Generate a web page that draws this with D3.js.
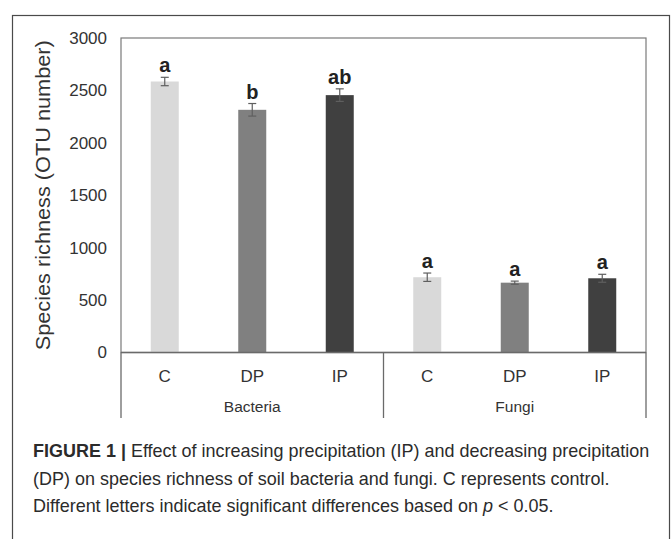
<!DOCTYPE html>
<html>
<head>
<meta charset="utf-8">
<script src="https://cdn.jsdelivr.net/npm/d3@7"></script>
<style>
  body { margin: 0; background: #fff; }
  svg { display: block; font-family: 'Liberation Sans', Arial, sans-serif; }
</style>
</head>
<body>
<div id="chart"></div>
<script>
// values
const groups = ['Bacteria', 'Fungi'];
const treatments = ['C', 'DP', 'IP'];
const bacteriaMean = [2585, 2315, 2455];
const bacteriaErr = [40, 60, 60];
const bacteriaLetters = ['a', 'b', 'ab'];
const fungiMean = [718, 666, 708];
const fungiErr = [40, 15, 38];
const fungiLetters = ['a', 'a', 'a'];
const yTicks = [0, 500, 1000, 1500, 2000, 2500, 3000];
const COLORS = ['#d9d9d9', '#808080', '#404040'];

const captionLines = [
  [{ t: 'FIGURE 1 |', w: 'bold' }, { t: ' Effect of increasing precipitation (IP) and decreasing precipitation' }],
  [{ t: '(DP) on species richness of soil bacteria and fungi. C represents control.' }],
  [{ t: 'Different letters indicate significant differences based on ' }, { t: 'p', i: true }, { t: ' < 0.05.' }],
];

const rows = [];
groups.forEach((g, gi) => {
  const mean = gi === 0 ? bacteriaMean : fungiMean;
  const err = gi === 0 ? bacteriaErr : fungiErr;
  const lett = gi === 0 ? bacteriaLetters : fungiLetters;
  treatments.forEach((t, ti) => {
    rows.push({ group: g, treat: t, value: mean[ti], err: err[ti], letter: lett[ti] });
  });
});

const W = 672, H = 539;
const plot = { left: 121, right: 646, top: 38, bottom: 352.5 };

const svg = d3.select('#chart').append('svg')
  .attr('width', W).attr('height', H);

// outer frame
svg.append('rect')
  .attr('x', 12.5).attr('y', 15.5)
  .attr('width', 657).attr('height', 540)
  .attr('fill', 'none').attr('stroke', '#4a4a4a').attr('stroke-width', 1.2);

const y = d3.scaleLinear().domain([0, 3000]).range([plot.bottom, plot.top]);
const xGroup = d3.scaleBand().domain(groups).range([plot.left, plot.right]).padding(0);
const xTreat = d3.scaleBand().domain(treatments)
  .range([0, xGroup.bandwidth()])
  .paddingInner(0.68).paddingOuter(0.34);

// plot border
svg.append('rect')
  .attr('x', plot.left).attr('y', plot.top)
  .attr('width', plot.right - plot.left).attr('height', plot.bottom - plot.top)
  .attr('fill', 'none').attr('stroke', '#7a7a7a').attr('stroke-width', 1.2);

// y axis labels
const yAxis = svg.append('g')
  .attr('transform', `translate(${plot.left},0)`)
  .call(d3.axisLeft(y).tickValues(yTicks).tickFormat(d3.format('d')).tickSize(0).tickPadding(14));
yAxis.select('.domain').remove();
yAxis.selectAll('text')
  .attr('font-size', 17).attr('fill', '#333')
  .attr('font-family', "'Liberation Sans', Arial, sans-serif");

svg.append('text')
  .attr('transform', `translate(50,${(plot.top + plot.bottom) / 2}) rotate(-90)`)
  .attr('text-anchor', 'middle')
  .attr('font-size', 20).attr('fill', '#333')
  .attr('textLength', 310).attr('lengthAdjust', 'spacingAndGlyphs')
  .text('Species richness  (OTU number)');

// bars
const bars = svg.append('g');
const bx = d => xGroup(d.group) + xTreat(d.treat);
bars.selectAll('rect').data(rows).enter().append('rect')
  .attr('x', bx)
  .attr('y', d => y(d.value))
  .attr('width', xTreat.bandwidth())
  .attr('height', d => y(0) - y(d.value))
  .attr('fill', d => COLORS[treatments.indexOf(d.treat)]);

// error bars
const eb = svg.append('g').attr('stroke', '#5f5f5f').attr('stroke-width', 1.2);
rows.forEach(d => {
  const cx = bx(d) + xTreat.bandwidth() / 2;
  const y0 = y(d.value - d.err), y1 = y(d.value + d.err);
  eb.append('line').attr('x1', cx).attr('x2', cx).attr('y1', y0).attr('y2', y1);
  eb.append('line').attr('x1', cx - 4).attr('x2', cx + 4).attr('y1', y0).attr('y2', y0);
  eb.append('line').attr('x1', cx - 4).attr('x2', cx + 4).attr('y1', y1).attr('y2', y1);
});

// significance letters
svg.append('g').selectAll('text').data(rows).enter().append('text')
  .attr('x', d => bx(d) + xTreat.bandwidth() / 2)
  .attr('y', d => y(d.value + d.err) - 5)
  .attr('text-anchor', 'middle')
  .attr('font-size', 20).attr('font-weight', 'bold').attr('fill', '#222')
  .text(d => d.letter);

// bottom axis line and group separators
const ax = svg.append('g').attr('stroke', '#6a6a6a').attr('stroke-width', 1.3);
ax.append('line').attr('x1', plot.left).attr('x2', plot.right)
  .attr('y1', plot.bottom).attr('y2', plot.bottom);
const seps = [plot.left].concat(groups.map(g => xGroup(g) + xGroup.bandwidth()));
ax.selectAll('line.sep').data(seps).enter().append('line')
  .attr('class', 'sep')
  .attr('x1', d => d).attr('x2', d => d)
  .attr('y1', plot.bottom).attr('y2', 418);

// treatment labels
svg.append('g').selectAll('text').data(rows).enter().append('text')
  .attr('x', d => bx(d) + xTreat.bandwidth() / 2)
  .attr('y', 382)
  .attr('text-anchor', 'middle')
  .attr('font-size', 17).attr('fill', '#333')
  .text(d => d.treat);

// group labels
svg.append('g').selectAll('text').data(groups).enter().append('text')
  .attr('x', d => xGroup(d) + xGroup.bandwidth() / 2)
  .attr('y', 412)
  .attr('text-anchor', 'middle')
  .attr('font-size', 15.5).attr('fill', '#333')
  .text(d => d);

// caption, one horizontal squeeze for all lines (fitted on line 2)
const cap = svg.append('g').attr('fill', '#2b2b2b');
const capTexts = captionLines.map(line => {
  const tx = cap.append('text')
    .attr('x', 0).attr('y', 0)
    .attr('font-size', 17.5)
    .attr('font-family', "'Liberation Sans', Arial, sans-serif");
  line.forEach(seg => {
    tx.append('tspan')
      .attr('font-weight', seg.w || null)
      .attr('font-style', seg.i ? 'italic' : null)
      .text(seg.t);
  });
  return tx;
});
const sx = 577 / capTexts[1].node().getComputedTextLength();
capTexts.forEach((tx, li) => {
  tx.attr('transform', `translate(33,${457 + li * 27.5}) scale(${sx},1)`);
});
</script>
</body>
</html>
